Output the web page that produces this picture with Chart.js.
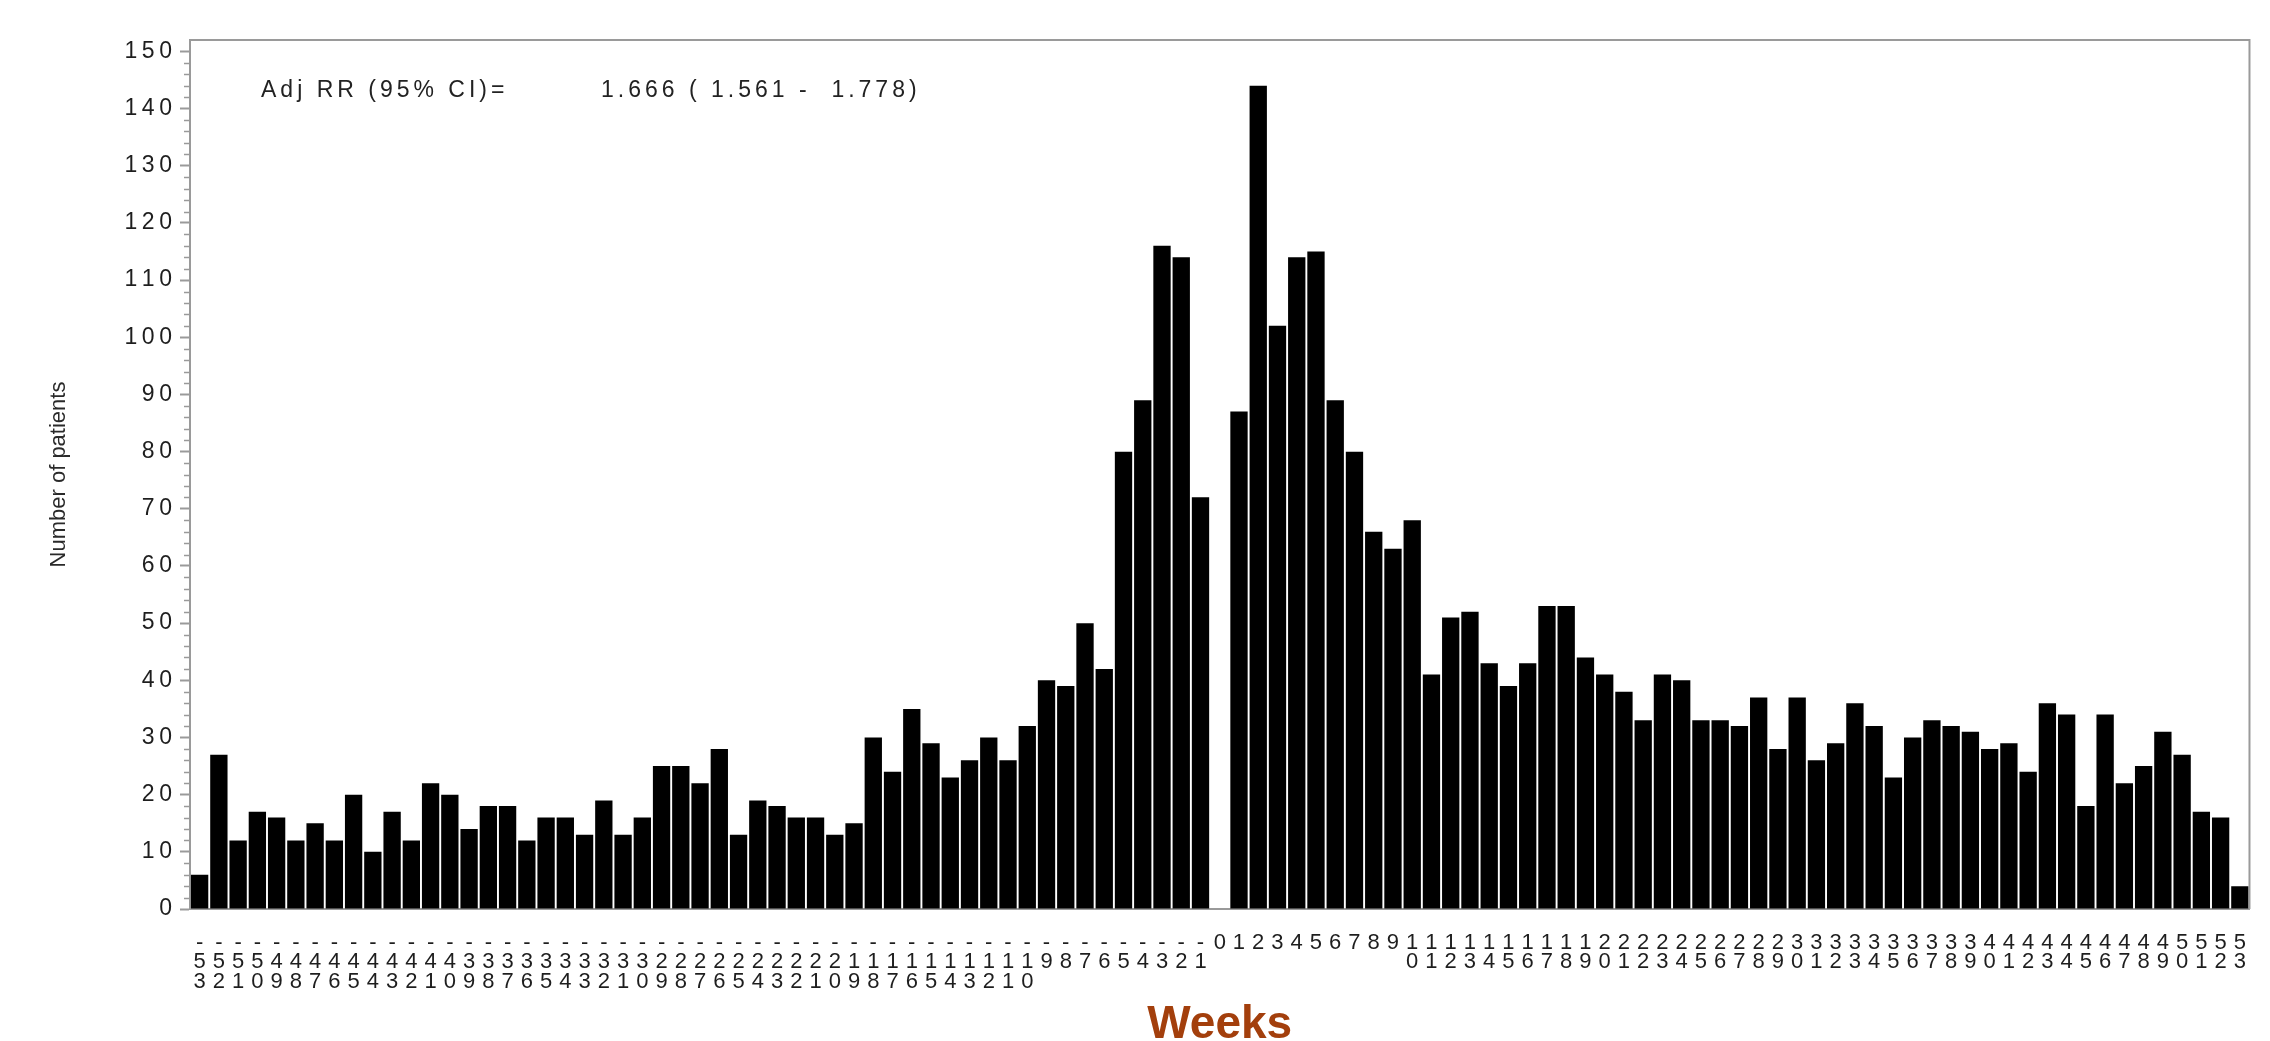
<!DOCTYPE html>
<html>
<head>
<meta charset="utf-8">
<title>Number of patients by week</title>
<script src="https://cdn.jsdelivr.net/npm/chart.js@4.4.1/dist/chart.umd.min.js"></script>
<style>
  html, body { margin: 0; padding: 0; background: #fff; }
  #wrap { width: 2270px; height: 1041px; }
</style>
</head>
<body>
<div id="wrap"><canvas id="weeksChart" width="2270" height="1041"></canvas></div>
<script>
// weeks relative to the index date
const weeks = [
  -53, -52, -51, -50, -49, -48, -47, -46, -45, -44, -43, -42, -41, -40, -39, -38, -37, -36,
  -35, -34, -33, -32, -31, -30, -29, -28, -27, -26, -25, -24, -23, -22, -21, -20, -19, -18,
  -17, -16, -15, -14, -13, -12, -11, -10, -9, -8, -7, -6, -5, -4, -3, -2, -1,
  0,
  1, 2, 3, 4, 5, 6, 7, 8, 9, 10, 11, 12, 13, 14, 15, 16, 17, 18,
  19, 20, 21, 22, 23, 24, 25, 26, 27, 28, 29, 30, 31, 32, 33, 34, 35, 36,
  37, 38, 39, 40, 41, 42, 43, 44, 45, 46, 47, 48, 49, 50, 51, 52, 53
];

// patients per week, weeks -53 .. -1
const patientsBefore = [
  6, 27, 12, 17, 16, 12, 15, 12, 20, 10, 17, 12, 22, 20, 14, 18, 18, 12,
  16, 16, 13, 19, 13, 16, 25, 25, 22, 28, 13, 19, 18, 16, 16, 13, 15, 30,
  24, 35, 29, 23, 26, 30, 26, 32, 40, 39, 50, 42, 80, 89, 116, 114, 72
];
// week 0 has no bar
const patientsWeek0 = [null];
// patients per week, weeks 1 .. 53
const patientsAfter = [
  87, 144, 102, 114, 115, 89, 80, 66, 63, 68, 41, 51, 52, 43, 39, 43, 53, 53,
  44, 41, 38, 33, 41, 40, 33, 33, 32, 37, 28, 37, 26, 29, 36, 32, 23, 30,
  33, 32, 31, 28, 29, 24, 36, 34, 18, 34, 22, 25, 31, 27, 17, 16, 4
];

const yTickValues = [0, 10, 20, 30, 40, 50, 60, 70, 80, 90, 100, 110, 120, 130, 140, 150];
const yMinorStep = 2;

const adjRrLabel = "Adj RR (95% CI)=";
const adjRrValue = "1.666 ( 1.561 -  1.778)";

const patients = [...patientsBefore, ...patientsWeek0, ...patientsAfter];

const FONT = "'Liberation Sans', Arial, Helvetica, sans-serif";
const AXIS_GREY = "#9a9a9a";

Chart.defaults.font.family = FONT;

// top/right frame, minor y ticks and the RR note
const frameAndNotes = {
  id: "frameAndNotes",
  afterDraw(chart) {
    const { ctx, chartArea, scales } = chart;
    const y = scales.y;

    ctx.save();
    ctx.strokeStyle = AXIS_GREY;
    ctx.lineWidth = 2;
    ctx.beginPath();
    ctx.moveTo(chartArea.left, chartArea.top);
    ctx.lineTo(chartArea.right, chartArea.top);
    ctx.lineTo(chartArea.right, chartArea.bottom);
    ctx.stroke();

    ctx.lineWidth = 1.5;
    const top = yTickValues[yTickValues.length - 1];
    for (let v = yMinorStep; v < top; v += yMinorStep) {
      if (v % 10 === 0) continue;
      const py = Math.round(y.getPixelForValue(v)) + 0.5;
      ctx.beginPath();
      ctx.moveTo(chartArea.left - 6, py);
      ctx.lineTo(chartArea.left, py);
      ctx.stroke();
    }

    ctx.fillStyle = "#222";
    ctx.font = "23px " + FONT;
    ctx.letterSpacing = "4px";
    ctx.textBaseline = "middle";
    ctx.textAlign = "left";
    ctx.fillText(adjRrLabel, chartArea.left + 71, chartArea.top + 51);
    ctx.fillText(adjRrValue, chartArea.left + 411, chartArea.top + 51);
    ctx.restore();
  }
};

new Chart(document.getElementById("weeksChart"), {
  type: "bar",
  data: {
    labels: weeks,
    datasets: [
      {
        label: "Number of patients",
        data: patients,
        backgroundColor: "#000000",
        borderWidth: 0,
        barPercentage: 0.9,
        categoryPercentage: 1.0,
      },
    ],
  },
  options: {
    responsive: false,
    animation: false,
    devicePixelRatio: 1,
    layout: {
      padding: { top: 40, right: 4, bottom: 0, left: 0 },
    },
    plugins: {
      legend: { display: false },
      tooltip: { enabled: false },
    },
    scales: {
      x: {
        grid: { drawOnChartArea: false, drawTicks: false },
        border: { color: AXIS_GREY, width: 2 },
        ticks: {
          autoSkip: false,
          maxRotation: 0,
          minRotation: 0,
          padding: 24,
          color: "#1e1e1e",
          font: { size: 22, lineHeight: 0.89 },
          // stacked characters: "-", "5", "3" for week -53
          callback: (value, index) => String(weeks[index]).split(""),
        },
        title: {
          display: true,
          text: "Weeks",
          color: "#A33F0C",
          font: { size: 46, weight: "bold", lineHeight: 1 },
          padding: { top: 0, bottom: -7 },
        },
        afterFit: (scale) => {
          scale.height = 132;
        },
      },
      y: {
        min: 0,
        max: 152,
        afterBuildTicks: (scale) => {
          scale.ticks = yTickValues.map(v => ({ value: v }));
        },
        grid: {
          drawOnChartArea: false,
          tickLength: 10,
          tickColor: AXIS_GREY,
          tickWidth: 2,
        },
        border: { color: AXIS_GREY, width: 2 },
        ticks: {
          padding: 8,
          color: "#1e1e1e",
          font: { size: 23 },
          callback: (value) => String(value).split("").join("\u2009"),
        },
        title: {
          display: true,
          text: "Number of patients",
          color: "#2a2a2a",
          font: { family: "'Liberation Sans Narrow', 'Liberation Sans', Arial, sans-serif", size: 22 },
          padding: { top: 46, bottom: 0 },
        },
        afterFit: (scale) => {
          scale.width = 190;
        },
      },
    },
  },
  plugins: [frameAndNotes],
});
</script>
</body>
</html>
